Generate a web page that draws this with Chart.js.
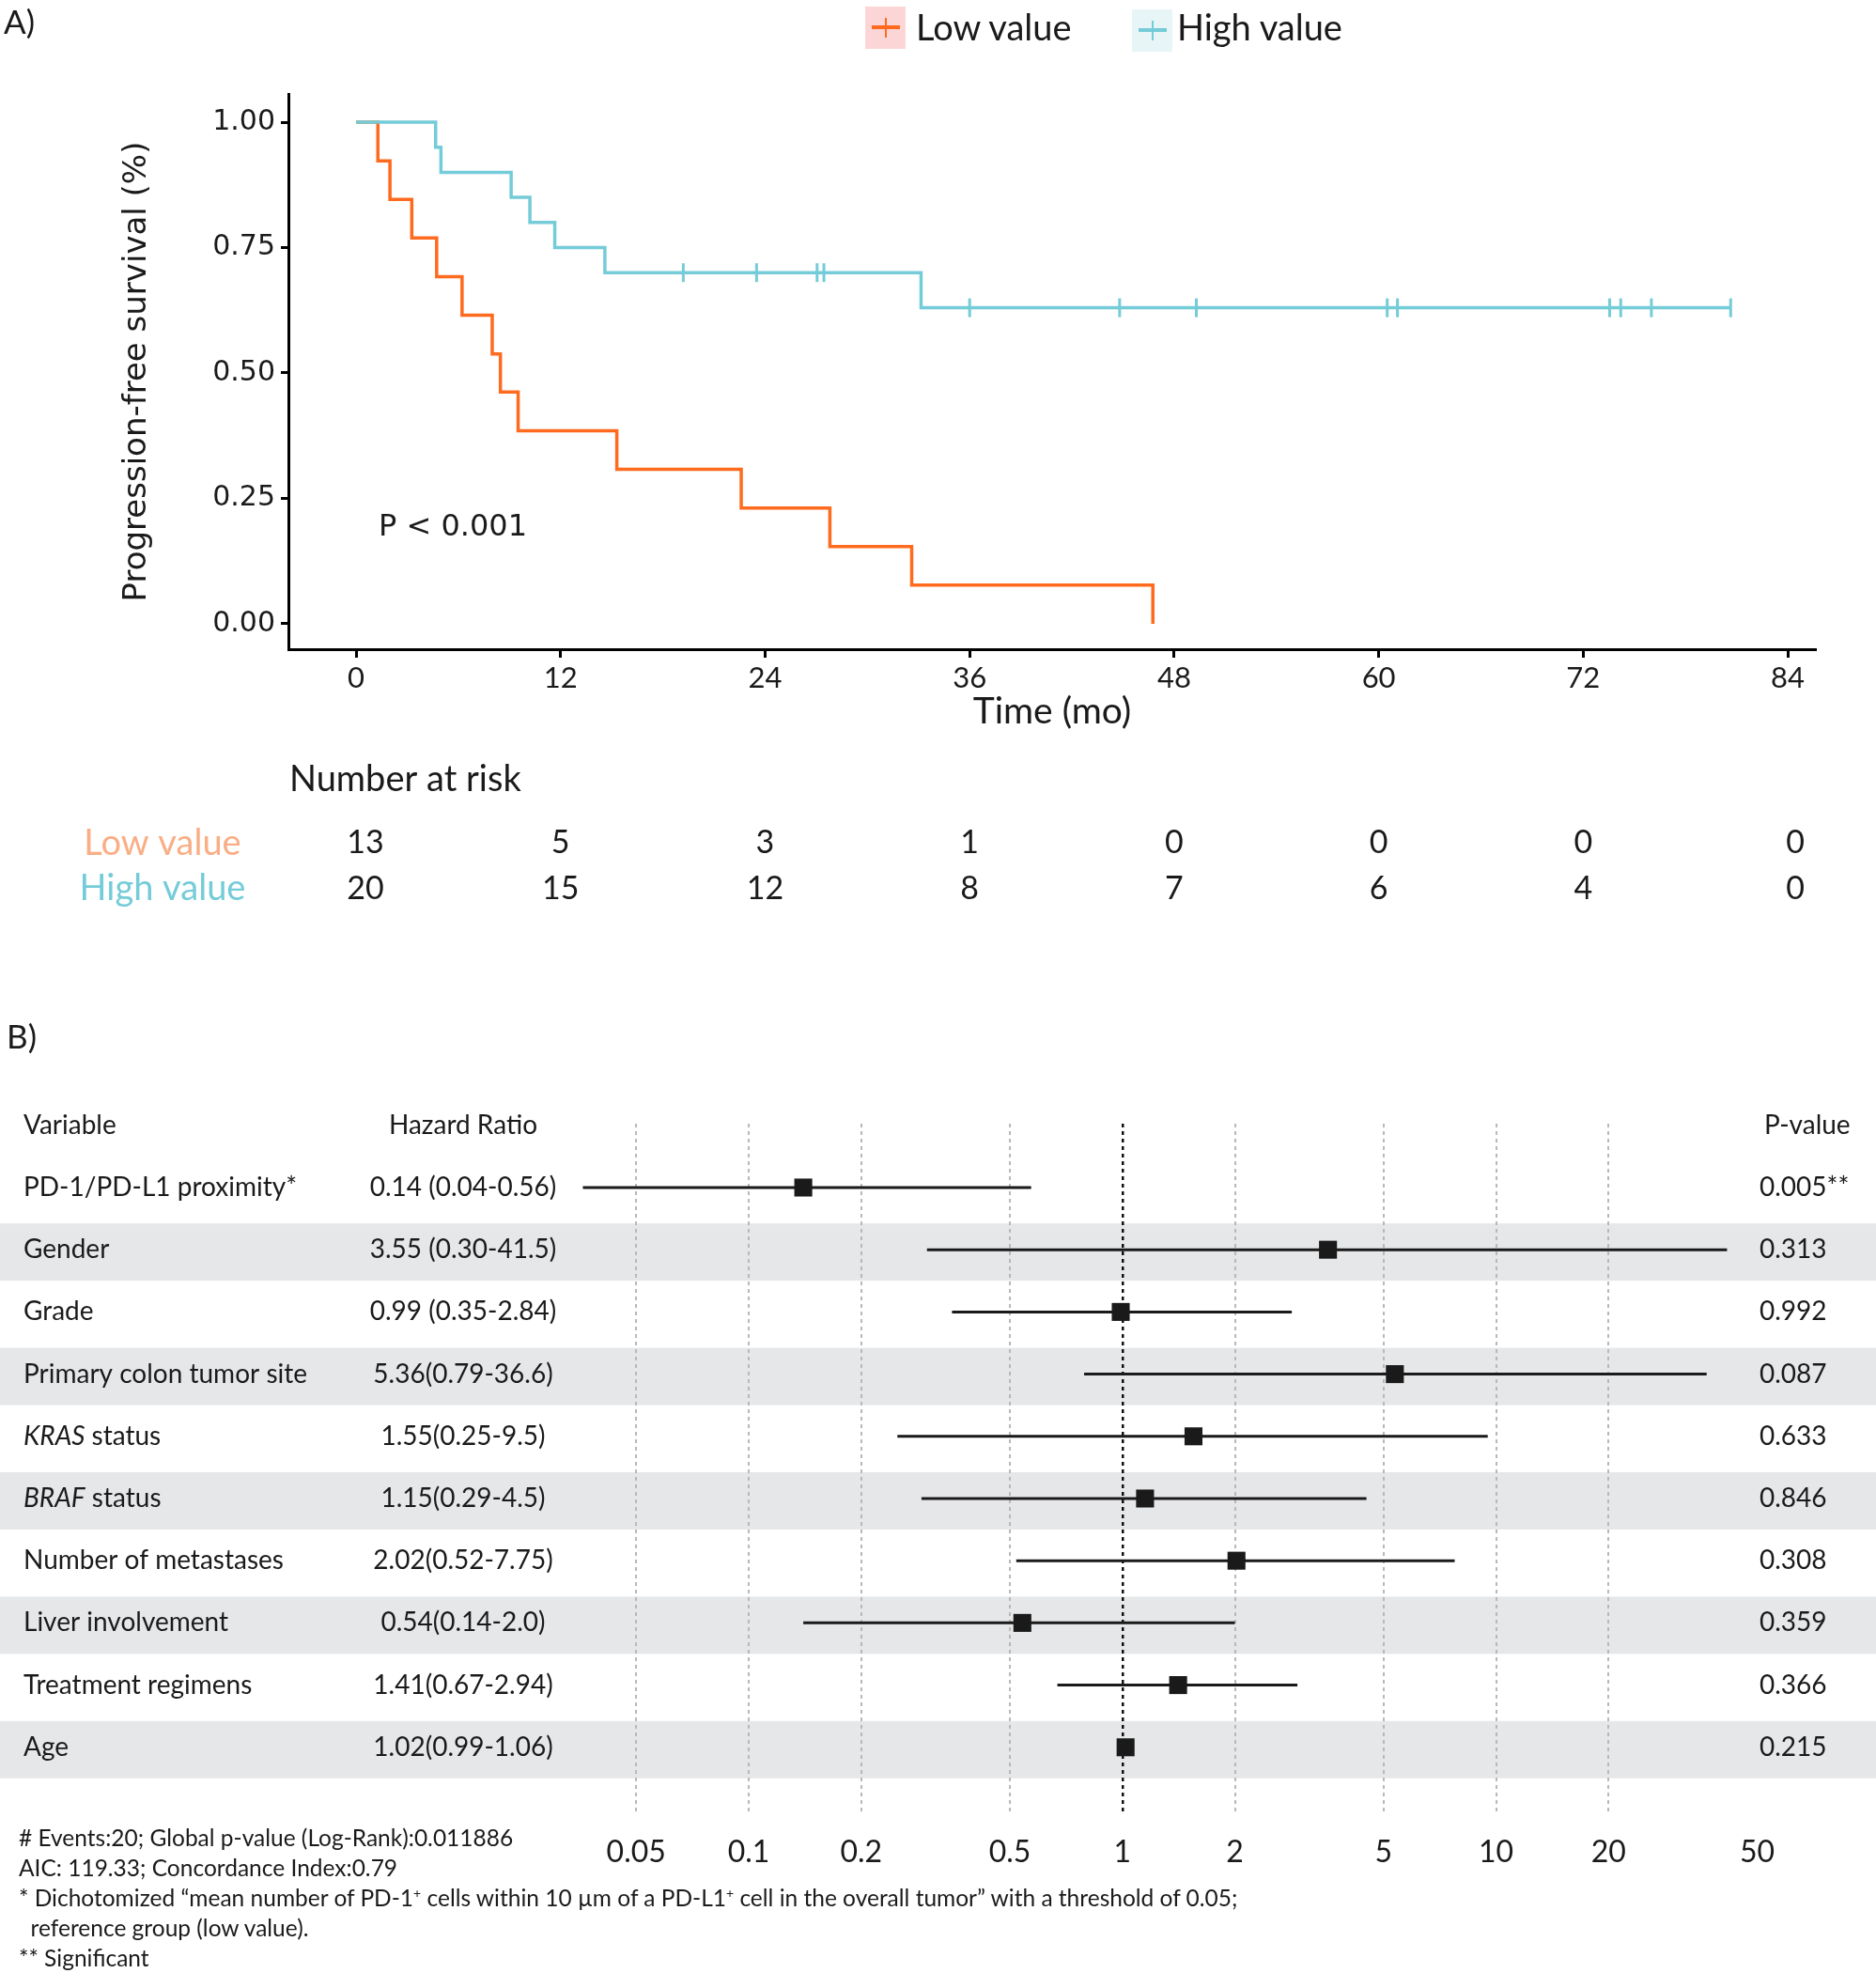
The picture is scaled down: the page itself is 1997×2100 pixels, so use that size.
<!DOCTYPE html>
<html>
<head>
<meta charset="utf-8">
<script src="https://cdn.jsdelivr.net/npm/chart.js@4.4.1/dist/chart.umd.min.js"></script>
<style>
  body { margin: 0; background: #fff; }
  #page { position: relative; width: 1997px; height: 2100px; overflow: hidden; font-family: Lato, sans-serif; color: #1a1a1a; }
  canvas { position: absolute; left: 0; }
  #km { top: 0; }
  #forest { top: 1100px; }
  .txt { position: absolute; white-space: nowrap; line-height: 1; }
  .key { position: absolute; width: 43px; height: 45px; }
  .key .h { position: absolute; left: 7px; top: 20px; width: 30px; height: 4px; }
  .key .v { position: absolute; left: 21px; top: 12px; width: 2px; height: 21px; }
  .foot { position: absolute; left: 20px; font-size: 24.5px; white-space: nowrap; line-height: 1; }
  .foot sup { font-size: 14px; vertical-align: 9px; line-height: 0; }
</style>
</head>
<body>
<div id="page">
  <canvas id="km" width="1997" height="1000"></canvas>
  <canvas id="forest" width="1997" height="1000"></canvas>

  <div class="txt" style="left:4px;top:5px;font-size:35px;">A)</div>
  <div class="txt" style="left:7px;top:1085px;font-size:35px;">B)</div>

  <div class="key" style="left:921px;top:7px;background:#fcd6d6;"><div class="h" style="background:#ff6a1f"></div><div class="v" style="background:#ff6a1f"></div></div>
  <div class="txt" style="left:975px;top:9px;font-size:38px;">Low value</div>
  <div class="key" style="left:1205px;top:10px;background:#e7f5f6;"><div class="h" style="background:#74ccd8"></div><div class="v" style="background:#74ccd8"></div></div>
  <div class="txt" style="left:1253px;top:9px;font-size:38px;">High value</div>

  <div class="foot" style="top:1944px;"># Events:20; Global p-value (Log-Rank):0.011886</div>
  <div class="foot" style="top:1976px;">AIC: 119.33; Concordance Index:0.79</div>
  <div class="foot" style="top:2008px;">* Dichotomized “mean number of PD-1<sup>+</sup> cells within 10 µm of a PD-L1<sup>+</sup> cell in the overall tumor” with a threshold of 0.05;</div>
  <div class="foot" style="top:2040px;">&nbsp;&nbsp;reference group (low value).</div>
  <div class="foot" style="top:2072px;">** Significant</div>
</div>

<script>
// --- Kaplan-Meier data (months / survival probability) ---
const riskTimes = [0, 12, 24, 36, 48, 60, 72, 84];
const lowRisk = [13, 5, 3, 1, 0, 0, 0, 0];
const highRisk = [20, 15, 12, 8, 7, 6, 4, 0];
const survTicks = [0, 0.25, 0.5, 0.75, 1];

const lowTimes = [0, 1.28, 1.99, 3.27, 4.73, 6.22, 7.99, 8.47, 9.51, 15.3, 22.6, 27.8, 32.6, 46.75];
const lowSurv = [1, 0.923, 0.846, 0.769, 0.692, 0.615, 0.538, 0.462, 0.385, 0.308, 0.231, 0.154, 0.077, 0];

const highTimes = [0, 4.67, 4.98, 9.1, 10.2, 11.66, 14.6, 33.15, 80.65];
const highSurv = [1, 0.95, 0.90, 0.85, 0.80, 0.75, 0.70, 0.63, 0.63];
const highCensorTimes = [19.2, 23.5, 27.05, 27.45, 36.0, 44.8, 49.3, 60.5, 61.1, 73.55, 74.2, 76.0, 80.65];
const highCensorSurv = [0.70, 0.70, 0.70, 0.70, 0.63, 0.63, 0.63, 0.63, 0.63, 0.63, 0.63, 0.63, 0.63];

// --- Cox model (forest) data ---
const variables = ['PD-1/PD-L1 proximity*', 'Gender', 'Grade', 'Primary colon tumor site', 'KRAS status',
  'BRAF status', 'Number of metastases', 'Liver involvement', 'Treatment regimens', 'Age'];
const hrLabels = ['0.14 (0.04-0.56)', '3.55 (0.30-41.5)', '0.99 (0.35-2.84)', '5.36(0.79-36.6)', '1.55(0.25-9.5)',
  '1.15(0.29-4.5)', '2.02(0.52-7.75)', '0.54(0.14-2.0)', '1.41(0.67-2.94)', '1.02(0.99-1.06)'];
const hr = [0.14, 3.55, 0.99, 5.36, 1.55, 1.15, 2.02, 0.54, 1.41, 1.02];
const ciLow = [0.036, 0.30, 0.35, 0.79, 0.25, 0.29, 0.52, 0.14, 0.67, 0.99];
const ciHigh = [0.57, 41.5, 2.84, 36.6, 9.5, 4.5, 7.75, 2.0, 2.94, 1.06];
const pValues = ['0.005**', '0.313', '0.992', '0.087', '0.633', '0.846', '0.308', '0.359', '0.366', '0.215'];
const hrTicks = [0.05, 0.1, 0.2, 0.5, 1, 2, 5, 10, 20, 50];

const ORANGE = '#ff6a1f';
const CYAN = '#74ccd8';
const INK = '#1a1a1a';

Chart.defaults.font.family = 'Lato';
Chart.defaults.color = INK;

const toXY = (xs, ys) => xs.map((x, i) => ({ x: x, y: ys[i] }));

// risk table + p value drawn under the KM plot
const riskTable = {
  id: 'riskTable',
  afterDraw(chart) {
    const ctx = chart.ctx;
    const xs = chart.scales.x;
    ctx.save();
    ctx.textBaseline = 'middle';
    ctx.fillStyle = INK;
    ctx.font = '32px "DejaVu Sans"';
    ctx.textAlign = 'left';
    ctx.fillText('P < 0.001', 403, 562);

    ctx.font = '38px Lato';
    ctx.fillText('Number at risk', 308, 830);
    ctx.textAlign = 'center';
    ctx.fillStyle = '#f9ae86';
    ctx.fillText('Low value', 173, 898);
    ctx.fillStyle = CYAN;
    ctx.fillText('High value', 173, 946);

    ctx.fillStyle = INK;
    ctx.font = '34px Lato';
    riskTimes.forEach((t, i) => {
      // first and last columns sit a little inside the axis ends
      const nudge = i === 0 ? 10 : (i === riskTimes.length - 1 ? 8 : 0);
      const x = xs.getPixelForValue(t) + nudge;
      ctx.fillText(String(lowRisk[i]), x, 897);
      ctx.fillText(String(highRisk[i]), x, 946);
    });
    ctx.restore();
  }
};

new Chart(document.getElementById('km'), {
  type: 'line',
  data: {
    datasets: [
      {
        label: 'High value',
        data: toXY(highTimes, highSurv),
        borderColor: CYAN,
        borderWidth: 3.5,
        stepped: true,
        pointRadius: 0,
        fill: false
      },
      {
        label: 'High value censored',
        data: toXY(highCensorTimes, highCensorSurv),
        showLine: false,
        pointStyle: 'line',
        rotation: 90,
        pointRadius: 10,
        pointBorderWidth: 3,
        borderColor: CYAN,
        pointBorderColor: CYAN
      },
      {
        label: 'Low value',
        data: toXY(lowTimes, lowSurv),
        borderColor: ORANGE,
        borderWidth: 3.5,
        stepped: true,
        pointRadius: 0,
        fill: false
      }
    ]
  },
  options: {
    responsive: false,
    animation: false,
    layout: { padding: { top: 100, right: 64, left: 100, bottom: 219 } },
    plugins: { legend: { display: false }, tooltip: { enabled: false } },
    scales: {
      x: {
        type: 'linear',
        min: -3.969,
        max: 85.65,
        afterBuildTicks: s => { s.ticks = riskTimes.map(v => ({ value: v })); },
        afterFit: s => { s.height = 90; },
        border: { display: true, color: '#000', width: 3 },
        grid: { drawOnChartArea: false, drawTicks: true, tickLength: 9, tickColor: '#000', tickWidth: 3 },
        ticks: { font: { size: 31 }, color: INK, padding: 3, autoSkip: false, maxRotation: 0 },
        title: { display: true, text: 'Time (mo)', font: { size: 39 }, color: INK, padding: { top: 0, bottom: 0 } }
      },
      y: {
        type: 'linear',
        min: -0.0506,
        max: 1.0562,
        afterBuildTicks: s => { s.ticks = survTicks.map(v => ({ value: v })); },
        afterFit: s => { s.width = 207; },
        border: { display: true, color: '#000', width: 3 },
        grid: { drawOnChartArea: false, drawTicks: true, tickLength: 8, tickColor: '#000', tickWidth: 3 },
        ticks: { font: { family: 'DejaVu Sans', size: 30 }, color: INK, padding: 6, callback: v => v.toFixed(2) },
        title: { display: true, text: 'Progression-free survival (%)', font: { family: 'DejaVu Sans', size: 34 }, color: INK, padding: { top: 26, bottom: 0 } }
      }
    }
  },
  plugins: [riskTable]
});

// --- forest plot ---
const ciSegments = [];
hr.forEach((v, i) => {
  ciSegments.push({ x: ciLow[i], y: i }, { x: ciHigh[i], y: i }, { x: ciHigh[i], y: null });
});

const forestTable = {
  id: 'forestTable',
  beforeDraw(chart) {
    const ctx = chart.ctx;
    const ys = chart.scales.y;
    ctx.save();
    ctx.fillStyle = '#e6e7e9';
    variables.forEach((v, i) => {
      if (i % 2 === 1) {
        const y = ys.getPixelForValue(i);
        ctx.fillRect(0, y - 28, chart.width, 61);
      }
    });
    ctx.restore();
  },
  afterDraw(chart) {
    const ctx = chart.ctx;
    const ys = chart.scales.y;
    ctx.save();
    ctx.textBaseline = 'middle';
    ctx.fillStyle = INK;
    const hy = ys.getPixelForValue(-1);
    ctx.font = '28px Lato';
    ctx.textAlign = 'left';
    ctx.fillText('Variable', 25, hy);
    ctx.fillText('P-value', 1878, hy);
    ctx.textAlign = 'center';
    ctx.fillText('Hazard Ratio', 493, hy);
    variables.forEach((name, i) => {
      const y = ys.getPixelForValue(i);
      ctx.textAlign = 'left';
      const m = name.match(/^(KRAS|BRAF)( .*)$/);
      if (m) {
        ctx.font = 'italic 28px Lato';
        ctx.fillText(m[1], 25, y);
        const w = ctx.measureText(m[1]).width;
        ctx.font = '28px Lato';
        ctx.fillText(m[2], 25 + w, y);
      } else {
        ctx.font = '28px Lato';
        ctx.fillText(name, 25, y);
      }
      ctx.fillText(pValues[i], 1873, y);
      ctx.textAlign = 'center';
      ctx.fillText(hrLabels[i], 493, y);
    });
    ctx.restore();
  }
};

new Chart(document.getElementById('forest'), {
  type: 'scatter',
  data: {
    datasets: [
      {
        label: 'Hazard ratio',
        data: toXY(hr, hr.map((v, i) => i)),
        pointStyle: 'rect',
        pointRadius: 13.5,
        pointBorderWidth: 0,
        backgroundColor: INK,
        borderColor: INK,
        order: 0
      },
      {
        label: '95% CI',
        type: 'line',
        data: ciSegments,
        borderColor: INK,
        borderWidth: 3,
        pointRadius: 0,
        spanGaps: false,
        order: 1
      }
    ]
  },
  options: {
    responsive: false,
    animation: false,
    layout: { padding: { left: 560, right: 97, top: 96, bottom: 100 } },
    plugins: { legend: { display: false }, tooltip: { enabled: false } },
    scales: {
      x: {
        type: 'logarithmic',
        min: 0.02537,
        max: 59.27,
        afterBuildTicks: s => { s.ticks = hrTicks.map(v => ({ value: v })); },
        afterFit: s => { s.height = 70; },
        border: { display: false, dash: [4, 4] },
        grid: {
          drawTicks: false,
          lineWidth: c => (c.tick && c.tick.value === 1 ? 2.5 : 2),
          color: c => {
            if (!c.tick) return '#b8b8b8';
            if (c.tick.value === 1) return '#111';
            if (c.tick.value === 50) return 'rgba(0,0,0,0)';
            return '#b8b8b8';
          }
        },
        ticks: { font: { size: 32 }, color: INK, padding: 22, autoSkip: false, maxRotation: 0, callback: v => String(v) }
      },
      y: { type: 'linear', display: false, reverse: true, min: -1.027, max: 10.061 }
    }
  },
  plugins: [forestTable]
});
</script>
</body>
</html>
